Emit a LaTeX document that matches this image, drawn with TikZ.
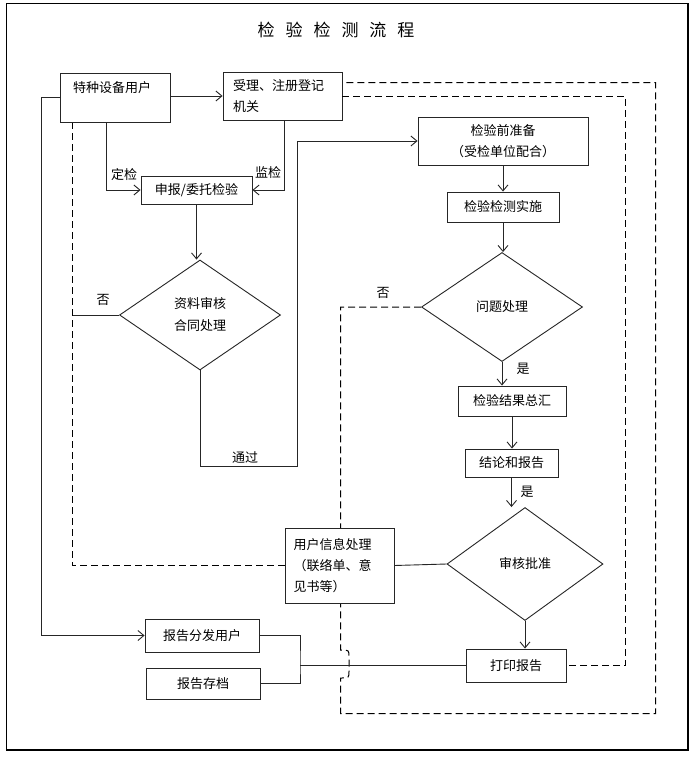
\documentclass[tikz,border=0pt]{standalone}
\usepackage{fontspec}
\setmainfont{Noto Sans CJK SC}
\usetikzlibrary{arrows.meta,shapes.geometric,backgrounds}
\begin{document}
\begin{tikzpicture}[x=1pt,y=-1pt,
 ln/.style={line width=0.9pt,draw=black!85},
 arr/.style={ln,-{Straight Barb[length=6pt,width=10pt]}},
 dsh/.style={line width=1pt,draw=black,dash pattern=on 7pt off 4pt},
 box/.style={ln,rectangle,fill=white,inner sep=0pt,font=\fontsize{13}{21}\selectfont},
 dia/.style={ln,diamond,fill=white,inner sep=0pt,align=center,font=\fontsize{13}{22}\selectfont},
 lbl/.style={inner sep=0pt,font=\fontsize{13}{15}\selectfont}]
\useasboundingbox (0,0) rectangle (697,760);
\draw[line width=1.3pt] (6.5,3.5) rectangle (688,750);
\node[font=\fontsize{17}{20}\selectfont] (title) at (336,30) {检\hspace{11pt}验\hspace{11pt}检\hspace{11pt}测\hspace{11pt}流\hspace{11pt}程};

\node[box,minimum width=110pt,minimum height=49pt,text width=84pt,align=left] (user) at (115,97.5) {特种设备用户\\~};
\node[box,minimum width=119pt,minimum height=48pt,text width=99pt,align=left] (reg) at (282.5,96) {受理、注册登记\\机关};
\node[box,minimum width=111pt,minimum height=28pt] (apply) at (196.5,190) {申报/委托检验};
\node[dia,minimum width=161pt,minimum height=110pt] (d1) at (200,315) {资料审核\\合同处理};
\node[box,minimum width=170pt,minimum height=48pt,align=center] (prep) at (503,141) {检验前准备\\（受检单位配合）};
\node[box,minimum width=112pt,minimum height=30pt] (exec) at (503,207) {检验检测实施};
\node[dia,minimum width=161pt,minimum height=109pt] (d2) at (502,307) {问题处理};
\node[box,minimum width=108pt,minimum height=30pt] (sum) at (512,401) {检验结果总汇};
\node[box,minimum width=93pt,minimum height=28pt] (concl) at (511.5,463) {结论和报告};
\node[dia,minimum width=156pt,minimum height=113pt] (d3) at (525,564) {审核批准};
\node[box,minimum width=100pt,minimum height=33pt] (print) at (516,665.5) {打印报告};
\node[box,minimum width=109pt,minimum height=75pt,text width=92pt,align=left] (info) at (339.5,565.5) {用户信息处理\\（联络单、意\\见书等）};
\node[box,minimum width=114pt,minimum height=33pt] (dist) at (202,635.5) {报告分发用户};
\node[box,minimum width=114pt,minimum height=31pt] (store) at (203,683.5) {报告存档};

\coordinate (dl) at (72.5,315);
\coordinate (t1) at (297,466);
\coordinate (o1) at (655.5,82.5);
\coordinate (i1) at (625.5,96);
\coordinate (j) at (300,665.5);

\begin{scope}[on background layer]
\draw[dsh] ([xshift=12.5pt]user.south west) |- (info.west);
\draw[dsh] (d2.west) -| (340.5,650) .. controls (349,650) .. (349,657) -- (349,671) .. controls (349,678) .. (340.5,678) -- (340.5,713.5) -| (o1) -- (reg.east |- o1);
\end{scope}
\draw[dsh] (reg.east) -- (i1) |- (print.east);

\draw[arr] (user.east |- reg.west) -- (reg.west);
\draw[arr] ([xshift=-9pt]user.south) |- (apply.west);
\draw[arr] ([xshift=1.5pt]reg.south) |- (apply.east);
\draw[arr] (apply.south) -- (apply.south |- d1.north);
\draw[ln] (d1.west) -- (dl);
\draw[arr] (d1.south) |- (t1) |- (prep.west);
\draw[arr] (prep.south) -- (exec.north);
\draw[arr] (exec.south) -- (exec.south |- d2.north);
\draw[arr] (d2.south) -- (d2.south |- sum.north);
\draw[arr] (sum.south) -- (sum.south |- concl.north);
\draw[arr] (concl.south) -- (concl.south |- d3.north);
\draw[arr] (d3.south) -- (d3.south |- print.north);
\draw[ln] (d3.west) -- (info.east);
\draw[arr] (user.west) -- ++(-18,0) |- (dist.west);
\draw[ln] (dist.east) -| (j) |- (store.east);
\draw[ln] (j) -- (print.west);

\node[lbl] (l1) at (124,175) {定检};
\node[lbl] (l2) at (268,173) {监检};
\node[lbl] (l3) at (103,300) {否};
\node[lbl] (l4) at (245,458) {通过};
\node[lbl] (l5) at (383,293) {否};
\node[lbl] (l6) at (523,369) {是};
\node[lbl] (l7) at (527,492) {是};
\end{tikzpicture}
\end{document}
